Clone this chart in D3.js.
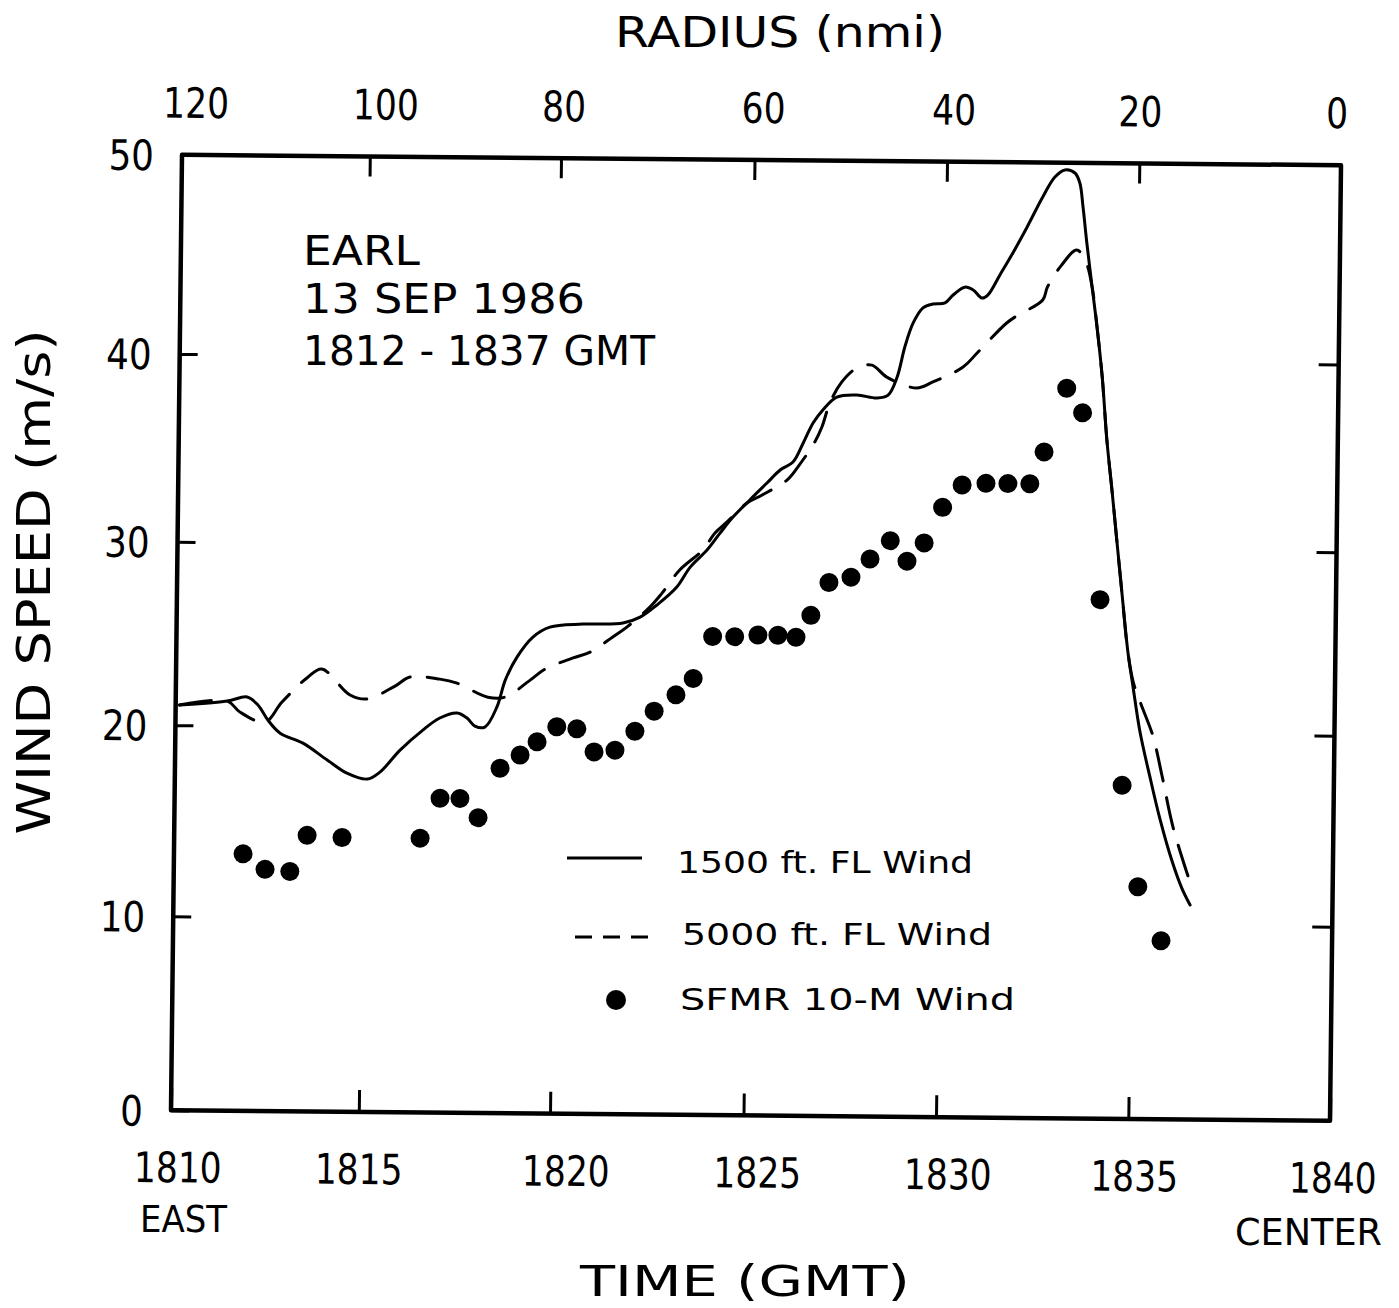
<!DOCTYPE html>
<html><head><meta charset="utf-8">
<script src="https://cdn.jsdelivr.net/npm/d3@7"></script>
<style>
body{margin:0;background:#fff}
svg{display:block;background:#fff}
text{font-family:"DejaVu Sans",sans-serif;fill:#000}
</style>
</head><body>
<svg id="c" width="1399" height="1308"></svg>
<script>
// ---------- data ----------
const timeTicks   = [1810,1815,1820,1825,1830,1835,1840];
const radiusTicks = [120,100,80,60,40,20,0];
const speedTicks  = [0,10,20,30,40,50];

const sfmrTime  = [1811.84,1812.43,1813.09,1813.54,1814.47,1816.52,1817.03,1817.55,1818.03,1818.59,1819.11,1819.55,1820.06,1820.58,1821.03,1821.57,1822.08,1822.57,1823.13,1823.57,1824.06,1824.63,1825.23,1825.75,1826.22,1826.60,1827.06,1827.63,1828.12,1828.64,1829.08,1829.52,1829.99,1830.49,1831.11,1831.68,1832.25,1832.61,1833.18,1833.60,1834.11,1834.74,1835.17,1835.76];
const sfmrSpeed = [13.3,12.5,12.4,14.3,14.2,14.2,16.3,16.3,15.3,17.9,18.6,19.3,20.1,20.0,18.8,18.9,19.9,21.0,21.9,22.8,25.1,25.1,25.2,25.2,25.1,26.3,28.1,28.4,29.4,30.4,29.3,30.3,32.2,33.4,33.5,33.5,33.5,35.2,38.6,37.3,27.3,17.3,12.0,9.2];

const fl1500Time  = [1810.1,1811.37,1811.9,1812.19,1812.46,1812.79,1813.4,1814.05,1814.58,1815.12,1815.45,1815.97,1816.56,1817.0,1817.45,1817.71,1817.92,1818.18,1818.49,1818.7,1819.0,1819.41,1819.85,1820.71,1821.74,1822.18,1822.61,1823.12,1823.46,1823.89,1824.22,1824.55,1824.98,1825.42,1825.76,1826.09,1826.35,1826.6,1826.85,1827.21,1827.73,1828.25,1828.54,1828.77,1828.96,1829.17,1829.42,1829.68,1829.99,1830.2,1830.5,1830.72,1830.95,1831.1,1831.41,1831.74,1832.09,1832.5,1832.81,1833.07,1833.33,1833.46,1833.55,1833.66,1833.81,1833.95,1834.1,1834.24,1834.39,1834.53,1834.68,1834.85,1834.99,1835.18,1835.44,1835.7,1836.01,1836.26,1836.47];
const fl1500Speed = [21.1,21.34,21.57,21.14,20.32,19.63,19.12,18.25,17.57,17.27,17.64,18.80,19.86,20.52,20.80,20.53,20.10,20.05,21.15,22.62,23.88,24.98,25.53,25.71,25.79,26.12,26.79,27.78,28.87,29.81,30.72,31.58,32.5,33.41,34.11,34.54,35.56,36.63,37.33,38.02,38.14,37.99,38.15,39.12,40.68,41.89,42.65,42.85,42.91,43.31,43.71,43.57,43.17,43.32,44.34,45.45,46.71,48.27,49.28,49.64,49.49,48.99,47.79,45.98,43.78,41.77,39.22,35.86,33.15,30.49,27.62,24.45,22.61,20.10,17.74,15.55,13.36,11.95,11.07];

const fl5000Time  = [1810.1,1811.37,1811.71,1812.38,1812.83,1813.51,1813.88,1814.64,1815.09,1815.82,1816.21,1816.99,1817.44,1818.25,1818.7,1819.35,1819.74,1820.46,1820.9,1821.48,1821.84,1822.43,1822.74,1823.19,1823.78,1824.09,1824.4,1824.91,1825.3,1825.94,1826.22,1826.65,1826.83,1827.03,1827.33,1827.72,1828.11,1828.5,1829.28,1829.7,1830.48,1830.84,1831.6,1831.89,1832.53,1832.65,1833.01,1833.4,1833.64,1833.81,1833.95,1834.1,1834.24,1834.39,1834.53,1834.68,1834.85,1835.0,1835.2,1835.5,1835.74,1836.03,1836.52];
const fl5000Speed = [21.1,21.34,20.75,20.21,21.31,22.68,23.13,21.73,21.52,22.24,22.74,22.64,22.43,21.68,21.69,22.63,23.24,23.86,24.19,25.02,25.57,26.67,27.44,28.71,29.81,30.72,31.32,32.34,32.77,33.58,34.29,35.62,36.42,37.7,38.82,39.58,39.74,39.11,38.54,38.87,39.68,40.41,41.93,42.33,43.1,43.76,44.86,45.63,45.03,43.78,41.77,39.22,35.86,33.15,30.49,27.62,24.45,22.8,21.6,19.9,17.8,15.1,11.9];

// ---------- layout / style ----------
const W = 1159, H = 955.5;
const xKnots = [0,187.8,379,572.5,765,957.3,1159];          // hand-drawn tick spacing
const yKnots = [955.5,761.5,570.4,387,199.2,0];
const plotMatrix = "matrix(1,0.00906,-0.01151,1,182,154.75)"; // slight skew of the scanned frame
const topNudge = {120:13,100:15,80:2,60:8,40:6,20:0,0:-5};
const botNudge = {1810:7,1815:0,1820:16,1825:14,1830:12,1835:6,1840:3};

const svg = d3.select("#c");
const x = d3.scaleLinear().domain(timeTicks).range(xKnots);
const r = d3.scaleLinear().domain(radiusTicks).range(xKnots);
const y = d3.scaleLinear().domain(speedTicks).range(yKnots);

const g = svg.append("g").attr("transform", plotMatrix);

function styleAxis(a){
  a.select(".domain").remove();
  a.selectAll(".tick line").attr("stroke","#000").attr("stroke-width",3);
  a.selectAll("text").attr("font-family","DejaVu Sans").attr("font-size",42).attr("fill","#000");
}
function condense(sel, f){
  sel.each(function(){ const w=this.getComputedTextLength(); d3.select(this).attr("textLength",w*f).attr("lengthAdjust","spacingAndGlyphs"); });
}

// bottom axis (time)
const ab = g.append("g").attr("transform",`translate(0,${H})`)
  .call(d3.axisBottom(x).tickValues(timeTicks).tickSize(-22).tickFormat(d3.format("d")));
styleAxis(ab);
ab.selectAll("text").attr("y",72).attr("dy",0).attr("dx",d=>botNudge[d]||0);
condense(ab.selectAll("text"),0.82);

// top axis (radius)
const at = g.append("g")
  .call(d3.axisTop(r).tickValues(radiusTicks).tickSize(-20).tickFormat(d3.format("d")));
styleAxis(at);
at.selectAll("text").attr("y",-37).attr("dy",0).attr("dx",d=>topNudge[d]||0);
condense(at.selectAll("text"),0.82);

// left axis
const al = g.append("g")
  .call(d3.axisLeft(y).tickValues(speedTicks).tickSize(-18).tickFormat(d3.format("d")));
styleAxis(al);
al.selectAll("text").attr("x",-28).attr("dy","0.36em").attr("text-anchor","end");
condense(al.selectAll("text"),0.85);

// right axis (ticks only)
const ar = g.append("g").attr("transform",`translate(${W},0)`)
  .call(d3.axisRight(y).tickValues([10,20,30,40]).tickSize(-20).tickFormat(""));
styleAxis(ar);

// frame
g.append("rect").attr("x",0).attr("y",0).attr("width",W).attr("height",H)
  .attr("fill","none").attr("stroke","#000").attr("stroke-width",4.5).attr("stroke-linejoin","round");

// lines
const line = d3.line().x(d=>x(d[0])).y(d=>y(d[1])).curve(d3.curveCatmullRom.alpha(0.5));
const s1500 = fl1500Time.map((t,i)=>[t,fl1500Speed[i]]);
const s5000 = fl5000Time.map((t,i)=>[t,fl5000Speed[i]]);
g.append("path").datum(s5000).attr("d",line).attr("fill","none").attr("stroke","#000")
  .attr("stroke-width",3).attr("stroke-dasharray","32,17").attr("stroke-linecap","round");
g.append("path").datum(s1500).attr("d",line).attr("fill","none").attr("stroke","#000")
  .attr("stroke-width",3).attr("stroke-linecap","round");

// SFMR dots
g.selectAll("circle.sfmr").data(sfmrTime.map((t,i)=>[t,sfmrSpeed[i]])).enter()
  .append("circle").attr("class","sfmr").attr("cx",d=>x(d[0])).attr("cy",d=>y(d[1])).attr("r",9.5).attr("fill","#000");

// ---------- free text ----------
function txt(s, px, py, size, len, anchor){
  const t = svg.append("text").attr("x",px).attr("y",py).attr("font-size",size)
    .attr("text-anchor",anchor||"start").text(s);
  if(len) t.attr("textLength",len).attr("lengthAdjust","spacingAndGlyphs");
  return t;
}
txt("RADIUS (nmi)", 780, 47, 43, 330, "middle");
txt("TIME (GMT)", 745, 1296, 43, 330, "middle");
txt("EAST", 140, 1232, 38, 87, "start");
txt("CENTER", 1235, 1245, 37, 147, "start");
svg.append("text").attr("transform","translate(50,582) rotate(-90)")
  .attr("font-size",46).attr("text-anchor","middle")
  .attr("textLength",505).attr("lengthAdjust","spacingAndGlyphs").text("WIND  SPEED  (m/s)");

txt("EARL", 303, 265, 41, 117);
txt("13 SEP 1986", 303, 313, 41, 282);
txt("1812 - 1837 GMT", 303, 365, 41, 352);

// legend
svg.append("line").attr("x1",567).attr("x2",642).attr("y1",858).attr("y2",858).attr("stroke","#000").attr("stroke-width",3);
svg.append("line").attr("x1",575).attr("x2",649).attr("y1",937).attr("y2",937).attr("stroke","#000").attr("stroke-width",3).attr("stroke-dasharray","17,11");
svg.append("circle").attr("cx",616).attr("cy",1000).attr("r",10).attr("fill","#000");
txt("1500 ft.  FL  Wind", 677, 873, 31, 296);
txt("5000 ft.  FL  Wind", 682, 945, 31, 310);
txt("SFMR   10-M  Wind", 680, 1010, 31, 335);
</script>
</body></html>
